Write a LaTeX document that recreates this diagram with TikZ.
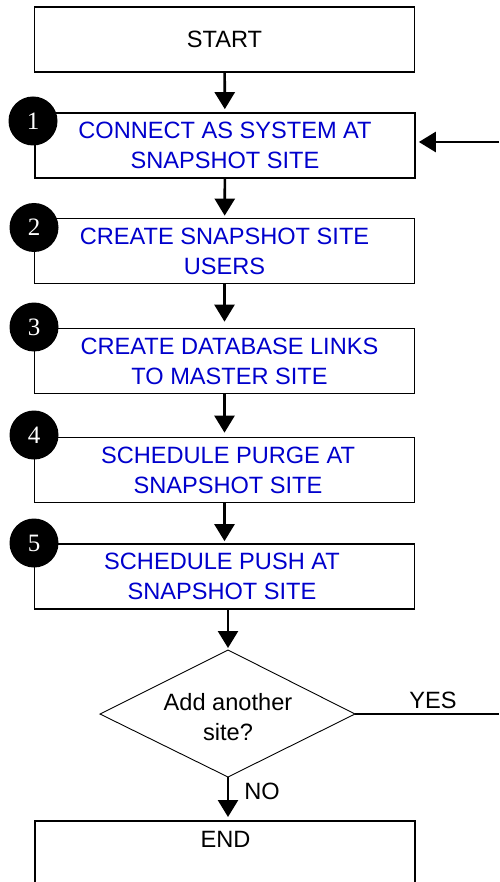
\documentclass[tikz,border=0pt]{standalone}
\usepackage{fontspec}
\setmainfont{Liberation Sans}
\newfontfamily\numfont{Liberation Serif}
\usetikzlibrary{shapes.geometric,arrows.meta}
\definecolor{stepblue}{RGB}{0,0,204}
\begin{document}
\begin{tikzpicture}[x=1pt,y=-1pt,
  txt/.style={font=\fontsize{23.6}{30}\selectfont},
  box/.style={draw,line width=1.7pt,minimum width=380pt,minimum height=65pt,inner sep=0pt,align=center,txt},
  bluebox/.style={box,text=stepblue},
  num/.style={circle,fill=black,minimum size=49pt,inner sep=0pt,text=white,font=\numfont\fontsize{25}{25}\selectfont},
  flow/.style={line width=2.6pt,-{Triangle[length=17pt,width=20pt]}},
  lbl/.style={txt,inner sep=0pt}]
\useasboundingbox (0,0) rectangle (499,882);
\clip (0,0) rectangle (499,882);

\node[box] (start) at (224.5,39.5) {START};
\node[bluebox] (s1) at (225,145.5) {CONNECT AS SYSTEM AT\\SNAPSHOT SITE};
\node[bluebox] (s2) at (224.5,251) {CREATE SNAPSHOT SITE\\USERS};
\node[bluebox] (s3) at (224.5,361) {\hspace*{10pt}CREATE DATABASE LINKS\\\hspace*{10pt}TO MASTER SITE};
\node[bluebox] (s4) at (224.5,470) {\hspace*{7pt}SCHEDULE PURGE AT\\\hspace*{7pt}SNAPSHOT SITE};
\node[bluebox] (s5) at (224.5,576.5) {SCHEDULE PUSH AT\hspace*{5pt}\\SNAPSHOT SITE\hspace*{5pt}};

\node[num] (c1) at (33,121) {1};
\node[num] (c2) at (34,227.5) {2};
\node[num] (c3) at (34,327) {3};
\node[num] (c4) at (34,435) {4};
\node[num] (c5) at (34,543) {5};

\coordinate (dtop) at (228,650);
\coordinate (dleft) at (100,714);
\coordinate (dright) at (355,714);
\coordinate (dbot) at (228,777);
\draw[line width=0.9pt,line join=miter] (dtop) -- (dright) -- (dbot) -- (dleft) -- cycle;
\node[lbl,align=center] (dec) at (228,717) {Add another\\site?};

\node[box,minimum height=80pt,anchor=north] (endbox) at (225,820) {};
\node[lbl] (endtxt) at (225.5,839) {END};

\node[lbl] (yes) at (433,700) {YES};
\node[lbl] (no) at (262,791) {NO};

\coordinate (ret) at (499,142);
\coordinate (yesend) at (499,714);

\draw[flow,shorten >=3pt] (start) -- (s1);
\draw[flow,shorten >=2pt] (s1) -- (s2);
\draw[flow,shorten >=6pt] (s2) -- (s3);
\draw[flow,shorten >=4pt] (s3) -- (s4);
\draw[flow,shorten >=2pt] (s4) -- (s5);
\draw[flow,shorten >=2pt] (s5.south -| dtop) -- (dtop);
\draw[flow,shorten >=3pt] (dbot) -- (endbox.north -| dbot);
\draw[flow,shorten >=3pt] (ret) -- (s1.east |- ret);
\draw[line width=2.4pt] (dright) -- (yesend);
\end{tikzpicture}
\end{document}
